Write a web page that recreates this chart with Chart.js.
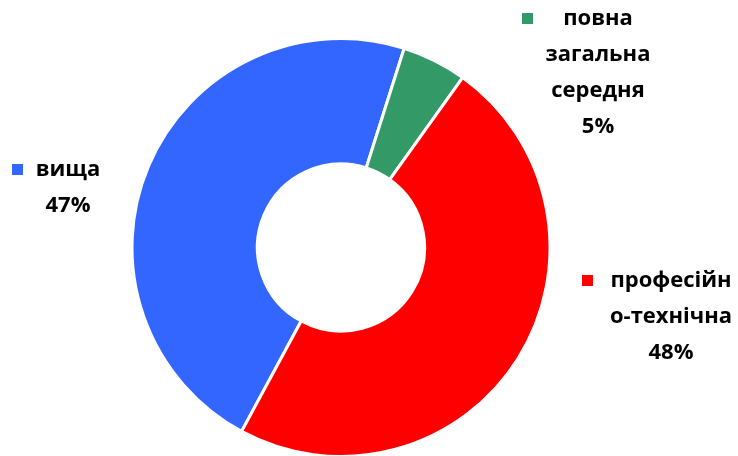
<!DOCTYPE html>
<html>
<head>
<meta charset="utf-8">
<script src="https://cdn.jsdelivr.net/npm/chart.js@4.4.1/dist/chart.umd.min.js"></script>
<style>
  html, body { margin: 0; padding: 0; background: #fff; overflow: hidden; }
  #wrap { width: 738px; height: 460px; }
</style>
</head>
<body>
<div id="wrap"><canvas id="doughnutChart"></canvas></div>
<script>
const categories = ['вища', 'повна загальна середня', 'професійно-технічна'];
const labelLines = [['вища'], ['повна', 'загальна', 'середня'], ['професійн', 'о-технічна']];
const values = [47, 5, 48];
const colors = ['#3366FF', '#339966', '#FF0000'];

// where each outside label block sits (text centre x, first line y, square x)
const labelPos = [
  { x: 68, y: 170, sq: 12 },
  { x: 598, y: 19, sq: 522 },
  { x: 671, y: 281, sq: 582 }
];

const outsideLabels = {
  id: 'outsideLabels',
  afterDraw(chart) {
    const ctx = chart.ctx;
    const total = values.reduce((a, b) => a + b, 0);
    ctx.save();
    ctx.font = 'bold 22px "Open Sans", sans-serif';
    ctx.textAlign = 'center';
    ctx.textBaseline = 'middle';
    labelPos.forEach((p, i) => {
      const lines = labelLines[i].concat([Math.round(values[i] / total * 100) + '%']);
      ctx.fillStyle = colors[i];
      ctx.fillRect(p.sq, p.y - 6, 11, 11);
      ctx.fillStyle = '#000';
      lines.forEach((t, j) => ctx.fillText(t, p.x, p.y + j * 36));
    });
    ctx.restore();
  }
};

new Chart(document.getElementById('doughnutChart'), {
  type: 'doughnut',
  data: {
    labels: categories,
    datasets: [{
      data: values,
      backgroundColor: colors,
      borderColor: '#fff',
      borderWidth: 3,
      hoverOffset: 0
    }]
  },
  options: {
    responsive: true,
    maintainAspectRatio: false,
    animation: false,
    rotation: 208.4,
    cutout: '40%',
    layout: { padding: { top: 37, bottom: 2, left: 100, right: 156 } },
    plugins: {
      legend: { display: false },
      tooltip: { enabled: false }
    }
  },
  plugins: [outsideLabels]
});
</script>
</body>
</html>
